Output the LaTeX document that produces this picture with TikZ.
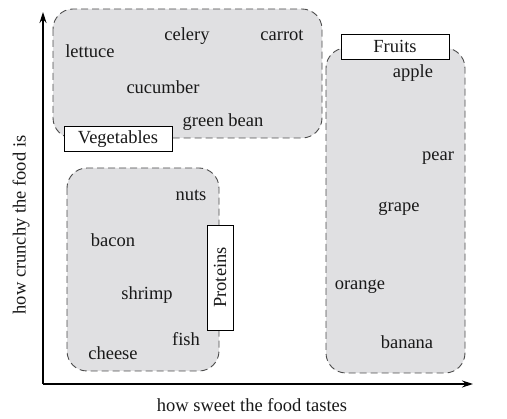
\documentclass[tikz,border=0pt]{standalone}
\usepackage{fontspec}
\setmainfont{Liberation Serif}
\begin{document}
\begin{tikzpicture}[x=1pt,y=-1pt,
  region/.style={draw=black!70,fill=groupgray,dash pattern=on 7pt off 4pt,line width=0.9pt,rounded corners=20pt},
  tag/.style={draw=black,fill=white,line width=0.9pt,inner sep=0pt},
  item/.style={font=\fontsize{18.5}{22}\selectfont,inner sep=0pt,text=black!90},
  axis/.style={line width=1.2pt,-{Stealth[length=11pt,width=7pt]}}]
\usetikzlibrary{arrows.meta}
\definecolor{groupgray}{RGB}{224,224,226}
\useasboundingbox (0,0) rectangle (507,419);
% regions
\draw[region] (53,9) rectangle (322,138);
\draw[region] (326,48) rectangle (465,373);
\draw[region] (67,168) rectangle (219,371);
% axes
\coordinate (o) at (43,384);
\coordinate (ytip) at (43,12);
\coordinate (xtip) at (473,384);
\draw[axis] (o) -- (ytip);
\draw[axis] (o) -- (xtip);
% vegetable items
\node[item] (lettuce) at (90,51) {lettuce};
\node[item] (celery) at (187,36) {celery};
\node[item] (carrot) at (282,35) {carrot};
\node[item] (cucumber) at (163,87) {cucumber};
\node[item] (greenbean) at (223,122) {green bean};
% fruit items
\node[item] (apple) at (413,73) {apple};
\node[item] (pear) at (438,158) {pear};
\node[item] (grape) at (399,209) {grape};
\node[item] (orange) at (360,287) {orange};
\node[item] (banana) at (407,342) {banana};
% protein items
\node[item] (nuts) at (191,195) {nuts};
\node[item] (bacon) at (113,240) {bacon};
\node[item] (shrimp) at (147,295) {shrimp};
\node[item] (fish) at (186,339) {fish};
\node[item] (cheese) at (113,353) {cheese};
% tags
\node[tag,item,minimum width=108pt,minimum height=25pt] (veg) at (118,139) {Vegetables};
\node[tag,item,minimum width=108pt,minimum height=25pt] (fruits) at (395,46.5) {Fruits};
\node[tag,item,minimum width=105pt,minimum height=26pt,rotate=90] (prot) at (220,277.5) {Proteins};
% axis labels
\node[item,rotate=90] (ylab) at (21,225) {how crunchy the food is};
\node[item] (xlab) at (252,405) {how sweet the food tastes};
\end{tikzpicture}
\end{document}
